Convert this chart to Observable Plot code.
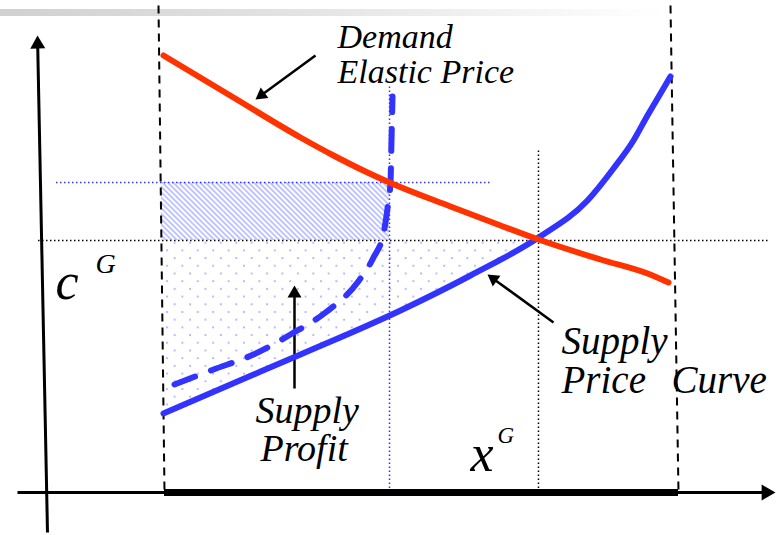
<!DOCTYPE html>
<html><head><meta charset="utf-8">
<script src="https://cdn.jsdelivr.net/npm/d3@7"></script>
<script src="https://cdn.jsdelivr.net/npm/@observablehq/plot@0.6"></script>
<style>
html,body{margin:0;padding:0;background:#fff;}
#wrap{position:relative;width:778px;height:535px;overflow:hidden;background:#fff;}
#band{position:absolute;left:0;top:9px;width:778px;height:7px;background:linear-gradient(to right,#d0d0d0 0%,#e4e4e4 40%,#f6f6f6 70%,#ffffff 85%);}
#wrap svg{position:absolute;left:0;top:0;}
#wrap svg text{font-family:"Liberation Serif","Times New Roman",serif !important;font-style:italic;}
</style></head><body>
<div id="wrap"><div id="band"></div></div>
<script>
// ---- data: quantity (x) and price (y) ----
const demandX = [1.21, 1.91, 2.58, 2.91, 3.25, 3.47, 4.08, 4.58, 4.96, 5.58, 6.05, 6.26];
const demandY = [4.37, 3.95, 3.55, 3.37, 3.20, 3.10, 2.86, 2.67, 2.53, 2.33, 2.19, 2.10];
const supplyX = [1.21, 1.88, 2.58, 3.58, 4.28, 4.96, 5.45, 5.71, 5.91, 6.05, 6.18, 6.28];
const supplyY = [0.79, 1.08, 1.38, 1.82, 2.17, 2.55, 2.92, 3.24, 3.52, 3.77, 3.99, 4.16];
const elasticX = [1.32, 1.71, 2.11, 2.48, 2.83, 3.15, 3.31, 3.41, 3.46, 3.48, 3.49, 3.50];
const elasticY = [1.08, 1.23, 1.38, 1.58, 1.80, 2.10, 2.35, 2.59, 2.92, 3.10, 3.52, 3.96];
const cG = 2.52;            // equilibrium price
const xG = 4.96;            // equilibrium quantity
const xE = 3.47, pE = 3.10; // elastic-demand point
const capTopX = [1.16, 6.28], capBotX = [1.22, 6.36], capTopY = 4.87;
const axisX = [-0.25, 7.33], axisY = [-0.40, 4.57];
const cGLine = [-0.04, 7.28], xGLineTop = 3.44;
const pELine = [0.14, 4.48], xELineTop = 4.07;

const demand = demandX.map((x, i) => ({x, y: demandY[i]}));
const supply = supplyX.map((x, i) => ({x, y: supplyY[i]}));
const elastic = elasticX.map((x, i) => ({x, y: elasticY[i]}));

const arrows = [
  {x1: 0.05, y1: axisY[0], x2: -0.05, y2: axisY[1], w: 3, head: 15},
  {x1: axisX[0], y1: 0, x2: axisX[1], y2: 0, w: 3, head: 16},
  {x1: 2.73, y1: 4.37, x2: 2.13, y2: 3.93, w: 2.5, head: 13},
  {x1: 2.52, y1: 1.04, x2: 2.52, y2: 2.07, w: 2.5, head: 14},
  {x1: 5.11, y1: 1.70, x2: 4.45, y2: 2.18, w: 2.5, head: 13}
];
const PX = 100; // pixels per unit (both axes)
arrows.forEach(a => {
  const dx = a.x2 - a.x1, dy = a.y2 - a.y1, L = Math.hypot(dx, dy);
  const off = (a.head * Math.sqrt(3) / 2 * 2 / 3) / PX;
  a.cx = a.x2 - dx / L * off; a.cy = a.y2 - dy / L * off;
  a.rot = Math.atan2(dx, dy) * 180 / Math.PI;
  a.r = Math.sqrt(Math.sqrt(3) / 4 * a.head * a.head / Math.PI);
});

const demandLabel = [
  {text: "Demand", x: 2.95, y: 4.45},
  {text: "Elastic Price", x: 2.95, y: 4.10}
];
const profitLabel = [
  {text: "Supply", x: 2.13, y: 0.70},
  {text: "Profit", x: 2.18, y: 0.32}
];
const curveLabel = [
  {text: "Supply", x: 5.19, y: 1.39},
  {text: "Price", x: 5.19, y: 1.00},
  {text: "Curve", x: 6.29, y: 1.00}
];
const symbols = [{text: "c", x: 0.13, y: 1.94}, {text: "x", x: 4.28, y: 0.22}];
const supers = [{text: "G", x: 0.53, y: 2.20, s: 28}, {text: "G", x: 4.55, y: 0.50, s: 23}];

const serif = "Liberation Serif, Times New Roman, serif";
const red = "#ff3300", blue = "#3333ff";
const txt = (data, size) => Plot.text(data, {x: "x", y: "y", text: "text", fontSize: size, fontFamily: serif, fontStyle: "italic", textAnchor: "start", lineAnchor: "bottom", fill: "black"});

const plot = Plot.plot({
  width: 778, height: 535, margin: 0,
  style: {background: "transparent", overflow: "visible"},
  x: {domain: [-0.42, 7.36], axis: null},
  y: {domain: [-0.43, 4.92], axis: null},
  marks: [
    // shaded regions
    Plot.rect([{x1: capBotX[0] - 0.03, x2: xE, y1: cG, y2: pE}], {x1: "x1", x2: "x2", y1: "y1", y2: "y2", fill: "url(#hatch)"}),
    Plot.areaY(supply.filter(d => d.x <= xG), {x: "x", y1: "y", y2: cG, curve: "monotone-x", fill: "url(#dots)"}),
    // guide lines
    Plot.ruleY([cG], {x1: cGLine[0], x2: cGLine[1], stroke: "black", strokeWidth: 1.5, strokeDasharray: "1.5,2.5"}),
    Plot.ruleX([xG], {y1: 0, y2: xGLineTop, stroke: "black", strokeWidth: 1.5, strokeDasharray: "1.5,2.5"}),
    Plot.ruleY([pE], {x1: pELine[0], x2: pELine[1], stroke: blue, strokeWidth: 1.5, strokeDasharray: "1.5,2.5"}),
    Plot.ruleX([xE], {y1: 0, y2: xELineTop, stroke: blue, strokeWidth: 1.5, strokeDasharray: "1.5,2.5"}),
    Plot.link([0, 1], {x1: i => capTopX[i], y1: capTopY, x2: i => capBotX[i], y2: 0, stroke: "black", strokeWidth: 2, strokeDasharray: "8,6"}),
    // axes and pointer arrows
    Plot.link(arrows, {x1: "x1", y1: "y1", x2: "cx", y2: "cy", stroke: "black", strokeWidth: "w"}),
    ...arrows.map(a => Plot.dot([a], {x: "cx", y: "cy", r: a.r, rotate: "rot", symbol: "triangle", fill: "black", stroke: "none"})),
    Plot.ruleY([0], {x1: capBotX[0], x2: capBotX[1], stroke: "black", strokeWidth: 7}),
    // curves
    Plot.line(supply, {x: "x", y: "y", curve: "monotone-x", stroke: blue, strokeWidth: 6}),
    Plot.line(elastic, {x: "x", y: "y", curve: "monotone-x", stroke: blue, strokeWidth: 6, strokeDasharray: "22,17"}),
    Plot.line(demand, {x: "x", y: "y", curve: "monotone-x", stroke: red, strokeWidth: 6, strokeLinecap: "round"}),
    // labels
    txt(demandLabel, 34),
    txt(profitLabel, 38),
    txt(curveLabel, 39),
    txt(symbols, 52),
    ...supers.map(s => txt([s], s.s))
  ]
});

plot.insertAdjacentHTML("afterbegin", `<defs>
  <pattern id="hatch" patternUnits="userSpaceOnUse" width="3.8" height="3.8" patternTransform="rotate(-45)">
    <line x1="1" y1="0" x2="1" y2="3.8" stroke="#b2b8ff" stroke-width="1.6"/>
  </pattern>
  <pattern id="dots" patternUnits="userSpaceOnUse" width="15.4" height="15.4" x="165" y="2">
    <circle cx="2" cy="2" r="1.1" fill="#aab0ff"/>
    <circle cx="9.7" cy="9.7" r="1.1" fill="#aab0ff"/>
  </pattern>
</defs>`);

document.getElementById("wrap").appendChild(plot);
</script>
</body></html>
